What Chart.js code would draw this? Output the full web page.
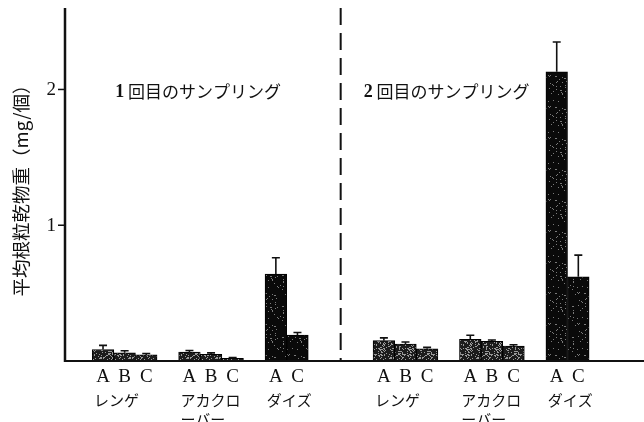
<!DOCTYPE html>
<html>
<head>
<meta charset="utf-8">
<script src="https://cdn.jsdelivr.net/npm/chart.js@4/dist/chart.umd.min.js"></script>
<style>
  html, body { margin: 0; padding: 0; background: #fff; }
  #wrap { width: 644px; height: 422px; }
</style>
</head>
<body>
<div id="wrap"><canvas id="c" width="644" height="422"></canvas></div>
<script>
// Mean nodule dry weight per nodule (mg), two sampling dates
const samplings = ['1 回目のサンプリング', '2 回目のサンプリング'];
const species = ['レンゲ', 'アカクロ\nーバー', 'ダイズ'];
const treatments = [['A', 'B', 'C'], ['A', 'B', 'C'], ['A', 'C']];
// values in species/treatment order: レンゲ A,B,C / アカクロ-バー A,B,C / ダイズ A,C
const mean1 = [0.085, 0.06, 0.045, 0.065, 0.05, 0.02, 0.64, 0.19];
const err1  = [0.03, 0.015, 0.01, 0.012, 0.01, 0.005, 0.12, 0.02];
const mean2 = [0.15, 0.125, 0.09, 0.16, 0.145, 0.11, 2.13, 0.62];
const err2  = [0.02, 0.015, 0.01, 0.03, 0.01, 0.01, 0.22, 0.16];
const yTicks = [1, 2];
const yLabel = '平均根粒乾物重（mg/個）';

const means = [mean1, mean2];
const errs = [err1, err2];

// bar slots: one slot per bar, one empty slot between species, three between samplings
const bars = [];
const groups = [];
let slot = 0;
samplings.forEach((s, si) => {
  let k = 0;
  species.forEach((sp, gi) => {
    const first = slot;
    treatments[gi].forEach(t => {
      bars.push({ x: slot, y: means[si][k], err: errs[si][k], label: t, heavy: gi === 2 });
      slot++; k++;
    });
    groups.push({ name: sp, first: first });
    slot++;
  });
  slot += 2;
});
const separatorSlot = 11;
const titleSlots = [4.4, 15.9];

// speckled fill used for the bars
function speckle(base, light, density) {
  const c = document.createElement('canvas');
  c.width = 29; c.height = 31;
  const g = c.getContext('2d');
  g.fillStyle = base; g.fillRect(0, 0, c.width, c.height);
  g.fillStyle = light;
  for (let i = 0; i < c.width; i++) {
    for (let j = 0; j < c.height; j++) {
      const h = (i * 73856093 ^ j * 19349663) >>> 0;
      if (h % 1000 < density) g.fillRect(i, j, 1, 1);
    }
  }
  return g.createPattern(c, 'repeat');
}
const fillLight = speckle('#1c1c1c', '#9a9a9a', 230);
const fillDark = speckle('#0a0a0a', '#7a7a7a', 60);

const ink = '#111';
const jp = '"Noto Sans CJK JP", "Noto Sans", sans-serif';
const serif = '"Liberation Serif", "DejaVu Serif", serif';

const decorations = {
  id: 'decorations',
  afterDatasetsDraw(chart) {
    const ctx = chart.ctx;
    const xs = chart.scales.x, ys = chart.scales.y;
    const area = chart.chartArea;
    const y0 = ys.getPixelForValue(0);
    ctx.save();
    ctx.strokeStyle = ink;
    ctx.fillStyle = ink;

    // error bars (upper half only)
    const meta = chart.getDatasetMeta(0);
    ctx.lineWidth = 1.6;
    bars.forEach((b, i) => {
      const el = meta.data[i];
      const top = ys.getPixelForValue(b.y + b.err);
      ctx.beginPath();
      ctx.moveTo(el.x, el.y);
      ctx.lineTo(el.x, top);
      ctx.moveTo(el.x - 4, top);
      ctx.lineTo(el.x + 4, top);
      ctx.stroke();
    });

    // axes
    ctx.lineWidth = 2.5;
    ctx.beginPath();
    ctx.moveTo(area.left, area.top);
    ctx.lineTo(area.left, y0 + 1);
    ctx.stroke();
    ctx.lineWidth = 2;
    ctx.beginPath();
    ctx.moveTo(area.left - 1, y0);
    ctx.lineTo(area.right, y0);
    ctx.stroke();

    // y ticks
    ctx.lineWidth = 1.5;
    ctx.font = '19px ' + serif;
    ctx.textAlign = 'right';
    ctx.textBaseline = 'middle';
    yTicks.forEach(v => {
      const y = ys.getPixelForValue(v);
      ctx.beginPath();
      ctx.moveTo(area.left - 7, y);
      ctx.lineTo(area.left, y);
      ctx.stroke();
      ctx.fillText(String(v), area.left - 9, y + 1);
    });

    // separator between samplings
    const sx = xs.getPixelForValue(separatorSlot);
    ctx.lineWidth = 2;
    ctx.setLineDash([17, 8]);
    ctx.beginPath();
    ctx.moveTo(sx, area.top);
    ctx.lineTo(sx, y0);
    ctx.stroke();
    ctx.setLineDash([]);

    // treatment letters
    ctx.font = '19px ' + serif;
    ctx.textAlign = 'center';
    ctx.textBaseline = 'middle';
    bars.forEach(b => {
      ctx.fillText(b.label, xs.getPixelForValue(b.x), 377);
    });

    // species names
    ctx.font = '15px ' + jp;
    ctx.textAlign = 'left';
    groups.forEach(g => {
      const x = xs.getPixelForValue(g.first) - 9;
      g.name.split('\n').forEach((line, li) => {
        ctx.fillText(line, x, 400 + li * 19);
      });
    });

    // sampling titles
    samplings.forEach((t, si) => {
      const num = t.split(' ')[0];
      const rest = t.slice(num.length);
      ctx.font = 'bold 18px ' + serif;
      const wNum = ctx.measureText(num).width;
      ctx.font = '17px ' + jp;
      const wRest = ctx.measureText(rest).width;
      const cx = xs.getPixelForValue(titleSlots[si]);
      const left = cx - (wNum + wRest) / 2;
      ctx.font = 'bold 18px ' + serif;
      ctx.fillText(num, left, 92);
      ctx.font = '17px ' + jp;
      ctx.fillText(rest, left + wNum, 92);
    });

    // y axis title
    ctx.translate(21, 186);
    ctx.rotate(-Math.PI / 2);
    ctx.font = '18.5px ' + jp;
    ctx.textAlign = 'center';
    ctx.fillText(yLabel, 0, 0);
    ctx.restore();
  }
};

new Chart(document.getElementById('c'), {
  type: 'bar',
  data: {
    datasets: [{
      data: bars.map(b => ({ x: b.x, y: b.y })),
      backgroundColor: bars.map(b => b.heavy ? fillDark : fillLight),
      borderColor: '#000',
      borderWidth: 1,
      barPercentage: 1,
      categoryPercentage: 1
    }]
  },
  options: {
    responsive: false,
    devicePixelRatio: 1,
    animation: false,
    layout: { padding: { left: 65, top: 8, right: 0, bottom: 61 } },
    plugins: { legend: { display: false }, tooltip: { enabled: false } },
    scales: {
      x: { type: 'linear', offset: false, min: -1.76, max: 25.04, display: false },
      y: { min: 0, max: 2.6, display: false }
    }
  },
  plugins: [decorations]
});
</script>
</body>
</html>
